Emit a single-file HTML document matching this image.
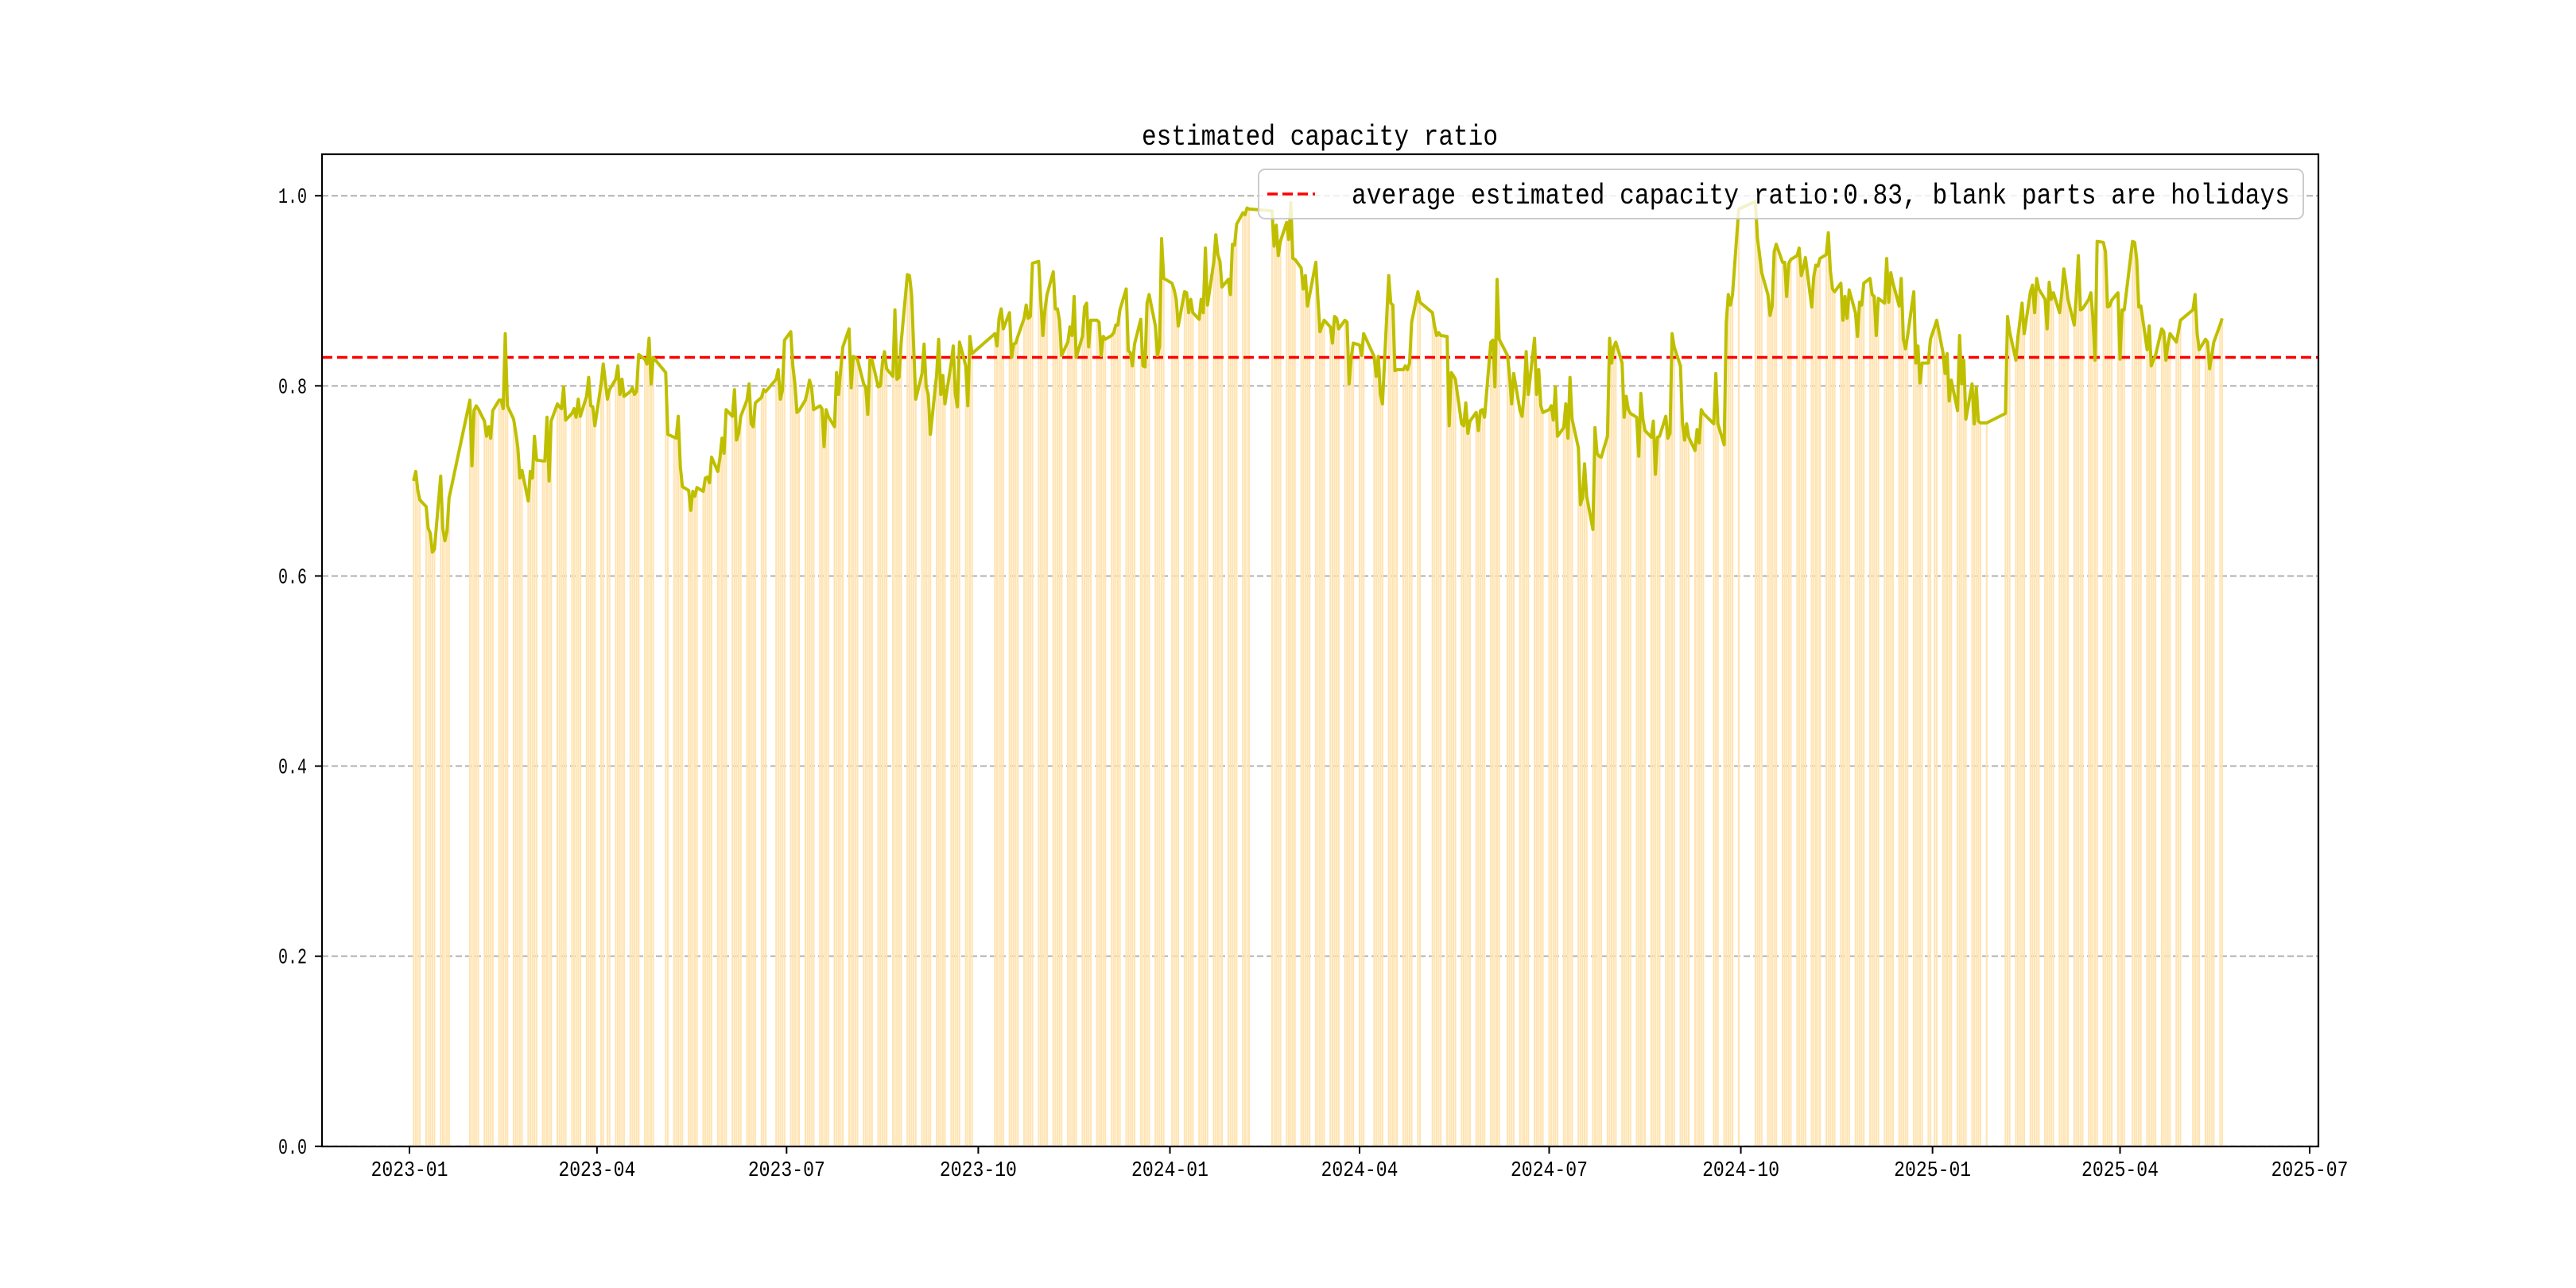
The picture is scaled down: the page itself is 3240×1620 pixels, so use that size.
<!DOCTYPE html>
<html><head><meta charset="utf-8"><style>
html,body{margin:0;padding:0;background:#fff;}
svg{display:block;}
text{font-family:"Liberation Mono","Noto Sans CJK SC",monospace;fill:#000;}
</style></head><body>
<svg id="chart" xmlns="http://www.w3.org/2000/svg" width="3240" height="1620" viewBox="0 0 3240 1620">
<rect width="3240" height="1620" fill="#fff"/>
<text x="1660" y="182" text-anchor="middle" font-size="36" textLength="448" lengthAdjust="spacingAndGlyphs">estimated capacity ratio</text>
<g id="grid"></g>
<g id="bars"></g>
<g id="gridTop"></g>
<g id="avg"></g>
<g id="line"></g>
<rect x="405" y="194" width="2511" height="1248" fill="none" stroke="#000" stroke-width="2.2"/>
<g id="yticks"></g>
<g id="xticks"></g>
<g>
<rect x="1583" y="213" width="1314" height="62" rx="8" fill="#fff" fill-opacity="0.8" stroke="#cccccc" stroke-width="2"/>
<line x1="1594" y1="244" x2="1654" y2="244" stroke="#ff0000" stroke-width="3.5" stroke-dasharray="13,6"/>
<text x="1700" y="256" font-size="36" textLength="1180" lengthAdjust="spacingAndGlyphs">average estimated capacity ratio:0.83, blank parts are holidays</text>
</g>
</svg>
<script>
const weekStarts = ["2023-01-02","2023-01-09","2023-01-16","2023-01-30","2023-02-06","2023-02-13","2023-02-20","2023-02-27","2023-03-06","2023-03-13","2023-03-20","2023-03-27","2023-04-03","2023-04-10","2023-04-17","2023-04-24","2023-05-01","2023-05-08","2023-05-15","2023-05-22","2023-05-29","2023-06-05","2023-06-12","2023-06-19","2023-06-26","2023-07-03","2023-07-10","2023-07-17","2023-07-24","2023-07-31","2023-08-07","2023-08-14","2023-08-21","2023-08-28","2023-09-04","2023-09-11","2023-09-18","2023-09-25","2023-10-09","2023-10-16","2023-10-23","2023-10-30","2023-11-06","2023-11-13","2023-11-20","2023-11-27","2023-12-04","2023-12-11","2023-12-18","2023-12-25",
"2024-01-01","2024-01-08","2024-01-15","2024-01-22","2024-01-29","2024-02-05","2024-02-19","2024-02-26","2024-03-04","2024-03-11","2024-03-18","2024-03-25","2024-04-01","2024-04-08","2024-04-15","2024-04-22","2024-04-29","2024-05-06","2024-05-13","2024-05-20","2024-05-27","2024-06-03","2024-06-10","2024-06-17","2024-06-24","2024-07-01","2024-07-08","2024-07-15","2024-07-22","2024-07-29","2024-08-05","2024-08-12","2024-08-19","2024-08-26","2024-09-02","2024-09-09","2024-09-16","2024-09-23","2024-09-30","2024-10-07","2024-10-14","2024-10-21","2024-10-28","2024-11-04","2024-11-11","2024-11-18","2024-11-25","2024-12-02","2024-12-09","2024-12-16","2024-12-23","2024-12-30",
"2025-01-06","2025-01-13","2025-01-20","2025-01-27","2025-02-03","2025-02-10","2025-02-17","2025-02-24","2025-03-03","2025-03-10","2025-03-17","2025-03-24","2025-03-31","2025-04-07","2025-04-14","2025-04-21","2025-04-28","2025-05-05","2025-05-12","2025-05-19"];
const weekVals = [[0.70,0.71,0.69,0.68],[0.673,0.65,0.645,0.625,0.628],[0.705,0.65,0.637,0.647,0.682],[0.785,0.716,0.774,0.779,0.776],[0.763,0.747,0.757,0.745,0.774],[0.785,0.785,0.776,0.855,0.779],[0.765,0.751,0.735,0.703,0.711],[0.679,0.710,0.703,0.747,0.722],[0.721,0.721,0.767,0.700,0.763],[0.781,0.778,0.776,0.799,0.764],[0.771,0.776,0.767,0.786,0.768],[0.789,0.809,0.779,0.778,0.758],[0.802,0.823,0.786,0.796],[0.807,0.821,0.791,0.807,0.789],[0.794,0.798,0.791,0.794,0.833],[0.828,0.823,0.850,0.802,0.830],[0.814,0.749],[0.746,0.745,0.768,0.715,0.694],[0.690,0.669,0.689,0.684,0.693],[0.689,0.703,0.704,0.698,0.725],[0.710,0.724,0.745,0.729,0.775],[0.768,0.796,0.743,0.750,0.768],[0.785,0.802,0.760,0.757,0.782],[0.788,0.796,0.794],[0.807,0.817,0.786,0.795,0.848],[0.857,0.821,0.802,0.772,0.774],[0.785,0.794,0.806,0.798,0.775],[0.779,0.776,0.736,0.775,0.768],[0.757,0.814,0.791,0.818,0.841],[0.860,0.798,0.831,0.830,0.828],[0.802,0.798,0.770,0.828,0.827],[0.799,0.800,0.824,0.836,0.818],[0.810,0.880,0.807,0.809,0.846],[0.917,0.916,0.896,0.841,0.786],[0.813,0.844,0.799,0.791,0.749],[0.811,0.849,0.791,0.811,0.781],[0.824,0.842,0.791,0.778,0.846],[0.821,0.779,0.852,0.834],[0.855,0.842,0.871,0.881,0.860],[0.877,0.830,0.844,0.845,0.852],[0.871,0.885,0.871,0.873,0.929],[0.931,0.891,0.853,0.880,0.896],[0.920,0.881,0.881,0.869,0.832],[0.846,0.862,0.853,0.894,0.830],[0.852,0.883,0.887,0.841,0.869],[0.869,0.867,0.832,0.852,0.849],[0.853,0.856,0.864,0.864,0.880],[0.902,0.837,0.835,0.821,0.844],[0.870,0.821,0.820,0.887,0.896],[0.863,0.832,0.841,0.955,0.913],
[0.908,0.901,0.891,0.863],[0.899,0.898,0.877,0.891,0.877],[0.870,0.891,0.877,0.945,0.885],[0.930,0.959,0.938,0.931,0.904],[0.912,0.896,0.949,0.948,0.970],[0.982,0.980,0.987,0.986],[0.984,0.947,0.969,0.937,0.952],[0.972,0.954,0.993,0.934,0.933],[0.924,0.902,0.916,0.884,0.895],[0.930,0.892,0.857,0.863,0.869],[0.862,0.845,0.873,0.871,0.860],[0.869,0.867,0.802,0.830,0.845],[0.843,0.832,0.855],[0.831,0.810,0.831,0.791,0.781],[0.916,0.887,0.885,0.816,0.817],[0.817,0.821,0.817,0.824,0.867],[0.899,0.888],[0.877,0.863,0.853,0.856,0.853],[0.852,0.758,0.814,0.811,0.807],[0.760,0.758,0.782,0.750,0.763],[0.772,0.753,0.774,0.775,0.767],[0.846,0.848,0.799,0.912,0.849],[0.832,0.810,0.781,0.813],[0.774,0.768,0.791,0.836,0.791],[0.850,0.791,0.817,0.779,0.772],[0.775,0.779,0.764,0.799,0.747],[0.756,0.781,0.745,0.809,0.765],[0.735,0.675,0.682,0.718,0.684],[0.649,0.756,0.729,0.726,0.725],[0.747,0.850,0.824,0.841,0.846],[0.824,0.767,0.789,0.775,0.771],[0.767,0.726,0.792,0.765,0.753],[0.746,0.763,0.707,0.746,0.747],[0.768,0.745,0.750,0.855,0.841],[0.821,0.761,0.743,0.760,0.746],[0.732,0.754,0.740,0.775,0.771],[0.760,0.813,0.760],[0.738,0.866,0.896,0.885,0.896],[0.986],[0.994,0.955,0.938,0.919],[0.896,0.874,0.884,0.941,0.949],[0.930,0.930,0.894,0.929,0.933],[0.937,0.945,0.916,0.924,0.935],[0.883,0.915,0.927,0.926,0.934],[0.938,0.961,0.921,0.902,0.899],[0.908,0.869,0.894,0.871,0.901],[0.877,0.852,0.888,0.885,0.908],[0.913,0.896,0.894,0.853,0.892],[0.887,0.934,0.888,0.919,0.908],[0.884,0.913,0.849,0.839,0.852],[0.899,0.824,0.842,0.803,0.824],[0.824,0.849,0.862,0.869],
[0.835,0.813,0.834,0.784,0.806],[0.774,0.853,0.802,0.827,0.765],[0.802,0.760,0.799,0.763,0.761],[0.761],[0.771,0.873,0.857],[0.827,0.852,0.869,0.887,0.855],[0.899,0.906,0.877,0.913,0.902],[0.891,0.860,0.909,0.891,0.898],[0.877,0.896,0.923,0.908,0.891],[0.864,0.896,0.937,0.880,0.881],[0.891,0.898,0.871,0.827,0.952],[0.951,0.941,0.883,0.884,0.890],[0.898,0.828,0.880,0.880],[0.952,0.951,0.933,0.883,0.884],[0.838,0.863,0.821,0.827,0.832],[0.860,0.857,0.827,0.844,0.855],[0.846,0.857,0.869],[0.880,0.896,0.855,0.838],[0.849,0.846,0.818,0.832,0.846],[0.864,0.871]];
const holidays = ["2023-01-02","2023-01-23","2023-01-24","2023-01-25","2023-01-26","2023-01-27","2023-04-05","2023-05-01","2023-05-02","2023-05-03","2023-06-22","2023-06-23","2023-09-29","2023-10-02","2023-10-03","2023-10-04","2023-10-05","2023-10-06","2024-01-01","2024-02-09","2024-02-12","2024-02-13","2024-02-14","2024-02-15","2024-02-16","2024-04-04","2024-04-05","2024-05-01","2024-05-02","2024-05-03","2024-06-10","2024-09-16","2024-09-17","2024-10-01","2024-10-02","2024-10-03","2024-10-04","2024-10-07","2025-01-01","2025-01-28","2025-01-29","2025-01-30","2025-01-31","2025-02-03","2025-02-04","2025-04-04","2025-05-01","2025-05-02","2025-05-05"];
const averageRatio = 0.83;
const yTicks = [0.0,0.2,0.4,0.6,0.8,1.0];
const yTickLabels = ["0.0","0.2","0.4","0.6","0.8","1.0"];
const xTickLabels = ["2023-01","2023-04","2023-07","2023-10","2024-01","2024-04","2024-07","2024-10","2025-01","2025-04","2025-07"];

const NS = "http://www.w3.org/2000/svg";
const DAY = 86400000, ORIGIN = Date.UTC(2023,0,1);
function dayNum(s){const p=s.split("-").map(Number);return (Date.UTC(p[0],p[1]-1,p[2])-ORIGIN)/DAY;}
function iso(d){return new Date(ORIGIN+d*DAY).toISOString().slice(0,10);}
const PXD = 2.6206;
function xScale(d){return 515 + PXD*d;}
function yScale(v){return 1441.8 - 1195.6*v;}
function mk(tag, attrs, parent){const e=document.createElementNS(NS,tag);for(const k in attrs)e.setAttribute(k,attrs[k]);parent.appendChild(e);return e;}

const hol = new Set(holidays);
const days = [], vals = [];
weekStarts.forEach((ws,i)=>{
  const d0 = dayNum(ws); let k=0;
  for(let j=0;j<5;j++){const d=d0+j; if(hol.has(iso(d))) continue;
    if(k<weekVals[i].length){days.push(d); vals.push(weekVals[i][k]);} k++;}
});

// grid
const gG = document.getElementById("grid");
yTicks.forEach(v=>{
  const l = mk("line",{x1:405,x2:2916,y1:yScale(v),y2:yScale(v),stroke:"#b0b0b0","stroke-width":2,"stroke-dasharray":"8,4"},gG);
  
  
});
// bars
const gB = document.getElementById("bars");
days.forEach((d,i)=>{
  const w = 0.8*PXD;
  const r = mk("rect",{x:xScale(d)-w/2,y:yScale(vals[i]),width:w,height:yScale(0)-yScale(vals[i]),fill:"#ffe4b3"},gB);
  
  
});
// avg
const gA = document.getElementById("avg");
const av = mk("line",{x1:405,x2:2916,y1:yScale(averageRatio),y2:yScale(averageRatio),stroke:"#ff0000","stroke-width":3.5,"stroke-dasharray":"13,6"},gA);


// line
const gL = document.getElementById("line");
const pts = days.map((d,i)=>xScale(d).toFixed(1)+","+yScale(vals[i]).toFixed(1)).join(" ");
const pl = mk("polyline",{points:pts,fill:"none",stroke:"#bfbf00","stroke-width":4,"stroke-linejoin":"round"},gL);


// y ticks
const gY = document.getElementById("yticks");
yTicks.forEach((v,i)=>{
  const t = mk("line",{x1:396,x2:405,y1:yScale(v),y2:yScale(v),stroke:"#000","stroke-width":2},gY);
  
  
  const tx = mk("text",{x:386,y:yScale(v)+9,"text-anchor":"end","font-size":27,textLength:36,lengthAdjust:"spacingAndGlyphs"},gY);
  tx.textContent = yTickLabels[i];
  
  
});
// x ticks
const gX = document.getElementById("xticks");
xTickLabels.forEach(s=>{
  const x = xScale(dayNum(s+"-01"));
  const t = mk("line",{x1:x,x2:x,y1:1442,y2:1451,stroke:"#000","stroke-width":2},gX);
  
  
  const tx = mk("text",{x:x,y:1479,"text-anchor":"middle","font-size":27,textLength:97,lengthAdjust:"spacingAndGlyphs"},gX);
  tx.textContent = s;
  
  
});
</script>
</body></html>
